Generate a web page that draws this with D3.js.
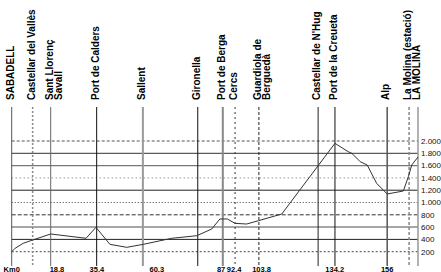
<!DOCTYPE html>
<html>
<head>
<meta charset="utf-8">
<script src="https://cdn.jsdelivr.net/npm/d3@7"></script>
<style>
  html, body { margin: 0; padding: 0; background: #fff; }
  svg { display: block; }
  text { font-family: "Liberation Sans", Arial, sans-serif; }
</style>
</head>
<body>
<script>
// ---------- data ----------
const townNames = ["SABADELL", "Castellar del Vallès", "Sant Llorenç Savall", "Port de Calders", "Sallent",
  "Gironella", "Port de Berga", "Cercs", "Guardiola de Berguedà", "Castellar de N'Hug",
  "Port de la Creueta", "Alp", "La Molina (estació)", "LA MOLINA"];
const townLabelLines = [["SABADELL"], ["Castellar del Vallès"], ["Sant Llorenç", "Savall"], ["Port de Calders"], ["Sallent"],
  ["Gironella"], ["Port de Berga"], ["Cercs"], ["Guardiola de", "Berguedà"], ["Castellar de N'Hug"],
  ["Port de la Creueta"], ["Alp"], ["La Molina (estació)"], ["LA MOLINA"]];
const townKm = [0, 8.7, 16.2, 35.3, 54.5, 77.3, 87.7, 92.8, 102.7, 127.3, 134.3, 156.0, 165.1, 168.8];

const profileKm   = [0, 1.4, 4.8, 8.7, 16.2, 30.9, 35.0, 40.8, 47.8, 54.7, 66.5, 76.9, 83.1, 86.5, 89.6, 92.8,
  97.6, 102.5, 112.2, 134.3, 139.8, 141.3, 144.8, 147.7, 151.6, 156.0, 162.7, 164.8, 166.2, 168.8];
const profileElev = [200, 255, 337, 390, 488, 418, 597, 320, 271, 320, 418, 460, 569, 732, 732, 661,
  650, 704, 813, 1962, 1826, 1800, 1663, 1610, 1312, 1138, 1187, 1420, 1610, 1740];

const xTickValues = [0, 18.8, 35.4, 60.3, 87, 92.4, 103.8, 134.2, 156];
const xTickLabels = ["Km0", "18.8", "35.4", "60.3", "87", "92.4", "103.8", "134.2", "156"];
const yTickValues = [200, 400, 600, 800, 1000, 1200, 1400, 1600, 1800, 2000];

// ---------- styles ----------
const vStyle = {
  "SABADELL": {c: "#555", w: 1, d: null},
  "Castellar del Vallès": {c: "#888", w: 1.5, d: "2,2"},
  "Sant Llorenç Savall": {c: "#666", w: 1, d: null},
  "Port de Calders": {c: "#111", w: 1, d: null},
  "Sallent": {c: "#999", w: 2, d: null},
  "Gironella": {c: "#111", w: 1, d: null},
  "Port de Berga": {c: "#888", w: 2, d: null},
  "Cercs": {c: "#333", w: 1, d: "2,3"},
  "Guardiola de Berguedà": {c: "#222", w: 1, d: "3,2"},
  "Castellar de N'Hug": {c: "#222", w: 1, d: null},
  "Port de la Creueta": {c: "#111", w: 1, d: null},
  "Alp": {c: "#555", w: 1.5, d: null},
  "La Molina (estació)": {c: "#888", w: 1.5, d: "3,2"},
  "LA MOLINA": {c: "#999", w: 1.5, d: null}
};
const hStyle = {
  2000: {c: "#555", w: 1, d: "3,2"},
  1800: {c: "#333", w: 1, d: null},
  1600: {c: "#777", w: 1.2, d: null},
  1400: {c: "#666", w: 1, d: "1,3"},
  1200: {c: "#222", w: 1, d: null},
  1000: {c: "#444", w: 1, d: "1,2"},
  800:  {c: "#333", w: 1, d: "4,2"},
  600:  {c: "#888", w: 1.5, d: null},
  400:  {c: "#222", w: 1, d: null},
  200:  {c: "#444", w: 1, d: "2,2"}
};

// ---------- chart ----------
const W = 441, H = 272;
const svg = d3.select("body").append("svg").attr("width", W).attr("height", H);

const x = d3.scaleLinear().domain([0, 168.8]).range([11.7, 418]);
const y = d3.scaleLinear().domain([0, 2000]).range([264, 141]);
const fmtY = d3.formatLocale({decimal: ",", thousands: ".", grouping: [3], currency: ["", ""]}).format(",");

// horizontal grid lines
svg.append("g").selectAll("line").data(yTickValues).join("line")
  .attr("x1", x.range()[0]).attr("x2", x.range()[1])
  .attr("y1", d => y(d)).attr("y2", d => y(d))
  .attr("stroke", d => hStyle[d].c)
  .attr("stroke-width", d => hStyle[d].w)
  .attr("stroke-dasharray", d => hStyle[d].d);

// y labels on right
svg.append("g").selectAll("text").data(yTickValues).join("text")
  .attr("x", x.range()[1] + 3).attr("y", d => y(d)).attr("dy", "0.35em")
  .attr("font-size", 8).attr("fill", "#111")
  .text(d => fmtY(d));

// vertical town lines
const towns = townNames.map((n, i) => ({name: n, km: townKm[i], lines: townLabelLines[i]}));
svg.append("g").selectAll("line").data(towns).join("line")
  .attr("x1", d => x(d.km)).attr("x2", d => x(d.km))
  .attr("y1", 107).attr("y2", 266)
  .attr("stroke", d => vStyle[d.name].c)
  .attr("stroke-width", d => vStyle[d.name].w)
  .attr("stroke-dasharray", d => vStyle[d.name].d);

// profile
const pts = profileKm.map((k, i) => [k, profileElev[i]]);
svg.append("path")
  .datum(pts)
  .attr("fill", "none")
  .attr("stroke", "#333")
  .attr("stroke-width", 1)
  .attr("d", d3.line().x(d => x(d[0])).y(d => y(d[1])));

// town labels (rotated)
const lg = svg.append("g");
towns.forEach(t => {
  t.lines.forEach((ln, j) => {
    lg.append("text")
      .attr("transform", `translate(${x(t.km) + 2 + j * 9},100) rotate(-90)`)
      .attr("font-size", 10).attr("font-weight", "bold").attr("fill", "#000")
      .text(ln);
  });
});

// x tick labels
svg.append("g").selectAll("text").data(xTickValues).join("text")
  .attr("x", d => x(d)).attr("y", 271.5)
  .attr("text-anchor", "middle")
  .attr("font-size", 7.5).attr("font-weight", "bold").attr("fill", "#000")
  .text((d, i) => xTickLabels[i]);
</script>
</body>
</html>
